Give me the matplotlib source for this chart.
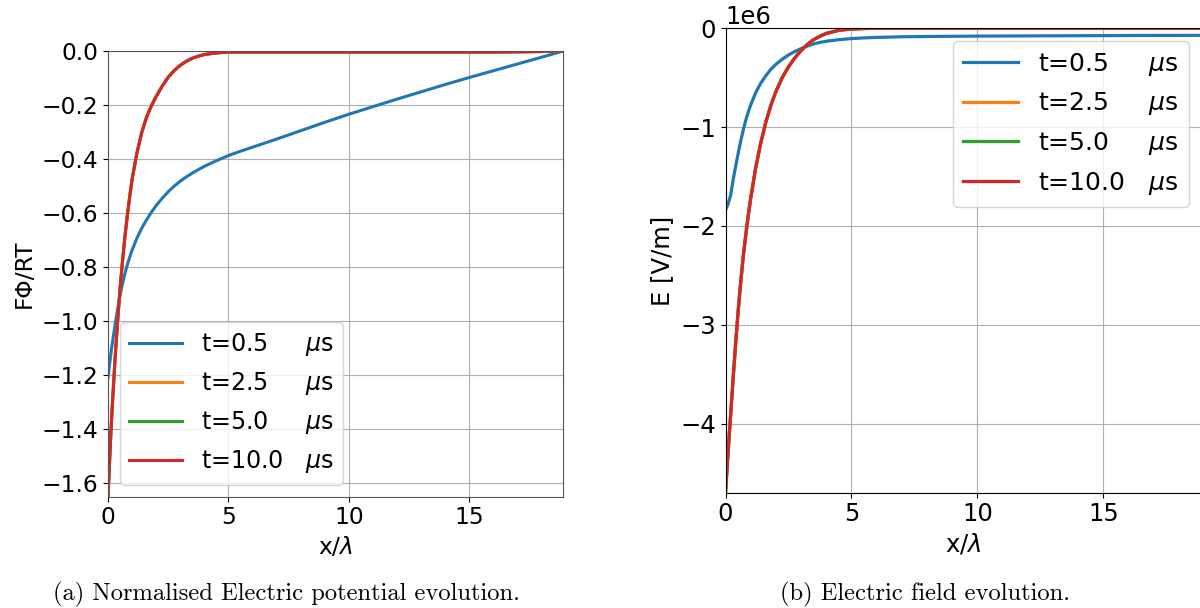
import matplotlib
matplotlib.use("Agg")
import matplotlib.pyplot as plt

# Position along the cell, normalised by the Debye length
x_norm = [0, 0.05, 0.1, 0.15, 0.2, 0.3, 0.4, 0.5, 0.6, 0.7, 0.8, 0.9, 1.0,
          1.2, 1.4, 1.6, 1.8, 2.0, 2.25, 2.5, 2.75, 3.0, 3.25, 3.5, 3.75,
          4.0, 4.5, 5.0, 5.5, 6.0, 7.0, 8.0, 9.0, 10.0, 11.0, 12.0, 13.0,
          14.0, 15.0, 16.0, 17.0, 18.0, 18.9]

times_us = ["0.5", "2.5", "5.0", "10.0"]
colors = ["#1f77b4", "#ff7f0e", "#2ca02c", "#d62728"]

# Normalised potential F*Phi/RT
phi_t05 = [-1.21, -1.17, -1.135, -1.10, -1.07, -1.01, -0.955, -0.905, -0.862,
           -0.825, -0.792, -0.763, -0.737, -0.693, -0.656, -0.625, -0.597,
           -0.572, -0.545, -0.521, -0.500, -0.482, -0.466, -0.452, -0.439,
           -0.427, -0.406, -0.387, -0.371, -0.356, -0.326, -0.295, -0.264,
           -0.234, -0.206, -0.178, -0.151, -0.124, -0.098, -0.073, -0.048,
           -0.023, 0.0]
phi_t25 = [-1.649, -1.55, -1.45, -1.36, -1.28, -1.13, -1.00, -0.88, -0.78,
           -0.69, -0.61, -0.54, -0.475, -0.378, -0.302, -0.245, -0.203, -0.168,
           -0.130, -0.097, -0.072, -0.053, -0.038, -0.027, -0.019, -0.013,
           -0.007, -0.004, -0.004, -0.004, -0.004, -0.004, -0.004, -0.004,
           -0.004, -0.004, -0.004, -0.004, -0.004, -0.004, -0.003, -0.002, 0.0]
phi_t50 = list(phi_t25)
phi_t100 = list(phi_t25)

# Electric field, in units of 1e6 V/m
e_t05 = [-1.84, -1.81, -1.78, -1.735, -1.695, -1.54, -1.40, -1.27, -1.145,
         -1.035, -0.935, -0.85, -0.775, -0.65, -0.555, -0.48, -0.415, -0.365,
         -0.313, -0.27, -0.235, -0.205, -0.18, -0.158, -0.143, -0.131,
         -0.115, -0.104, -0.097, -0.092, -0.086, -0.083, -0.081, -0.079,
         -0.078, -0.077, -0.076, -0.075, -0.074, -0.073, -0.072, -0.072,
         -0.071]
e_t25 = [-4.70, -4.50, -4.30, -4.11, -3.93, -3.55, -3.20, -2.87, -2.58,
         -2.32, -2.10, -1.90, -1.72, -1.41, -1.16, -0.95, -0.78, -0.64,
         -0.50, -0.39, -0.30, -0.225, -0.163, -0.115, -0.08, -0.052, -0.02,
         -0.007, -0.002, 0.0, 0.0, 0.0, 0.0, 0.0, 0.0, 0.0, 0.0, 0.0, 0.0,
         0.0, 0.0, 0.0, 0.0]
e_t50 = list(e_t25)
e_t100 = list(e_t25)

phi_series = [phi_t05, phi_t25, phi_t50, phi_t100]
e_series = [e_t05, e_t25, e_t50, e_t100]
labels = ["t=0.5     $\\mu$s", "t=2.5     $\\mu$s",
          "t=5.0     $\\mu$s", "t=10.0   $\\mu$s"]

W, H = 1200, 608
fig = plt.figure(figsize=(W / 100, H / 100), dpi=100)

ax1 = fig.add_axes([108 / W, (H - 496.5) / H, (563.3 - 108) / W, (496.5 - 51) / H])
ax2 = fig.add_axes([725.5 / W, (H - 492.7) / H, (1201.7 - 725.5) / W, (492.7 - 28.3) / H])

fs1 = 16.8
fs2 = 17.5

for y, c, lab in zip(phi_series, colors, labels):
    ax1.plot(x_norm, y, color=c, lw=2.2, label=lab)
ax1.set_xlim(0, 18.9)
ax1.set_ylim(-1.649, 0.0)
ax1.set_xticks([0, 5, 10, 15])
ax1.set_yticks([-1.6, -1.4, -1.2, -1.0, -0.8, -0.6, -0.4, -0.2, 0.0])
ax1.grid(True, color="#b0b0b0", lw=0.8)
ax1.tick_params(labelsize=fs1)
ax1.set_xlabel("x/$\\lambda$", fontsize=fs1)
ax1.set_ylabel("F\u03a6/RT", fontsize=fs1)
ax1.legend(loc="lower left", fontsize=17.1, handlelength=2.2)
for s in ax1.spines.values():
    s.set_color("#555555")

for y, c, lab in zip(e_series, colors, labels):
    ax2.plot(x_norm, [v * 1e6 for v in y], color=c, lw=2.3, label=lab)
ax2.set_xlim(0, 18.9)
ax2.set_ylim(-4.70e6, 0.0)
ax2.set_xticks([0, 5, 10, 15])
ax2.grid(True, color="#b0b0b0", lw=0.8)
ax2.tick_params(labelsize=fs2)
ax2.yaxis.get_offset_text().set_fontsize(fs2)
ax2.set_xlabel("x/$\\lambda$", fontsize=fs2)
ax2.set_ylabel("E [V/m]", fontsize=fs2)
ax2.legend(loc="upper right", fontsize=18.1, handlelength=2.2)

fig.text(286 / W, 1 - 594 / H, "(a) Normalised Electric potential evolution.",
         family="cmr10", fontsize=17.7, ha="center", va="center")
fig.text(925 / W, 1 - 594 / H, "(b) Electric field evolution.",
         family="cmr10", fontsize=17.7, ha="center", va="center")

fig.savefig("out.png", dpi=100)
